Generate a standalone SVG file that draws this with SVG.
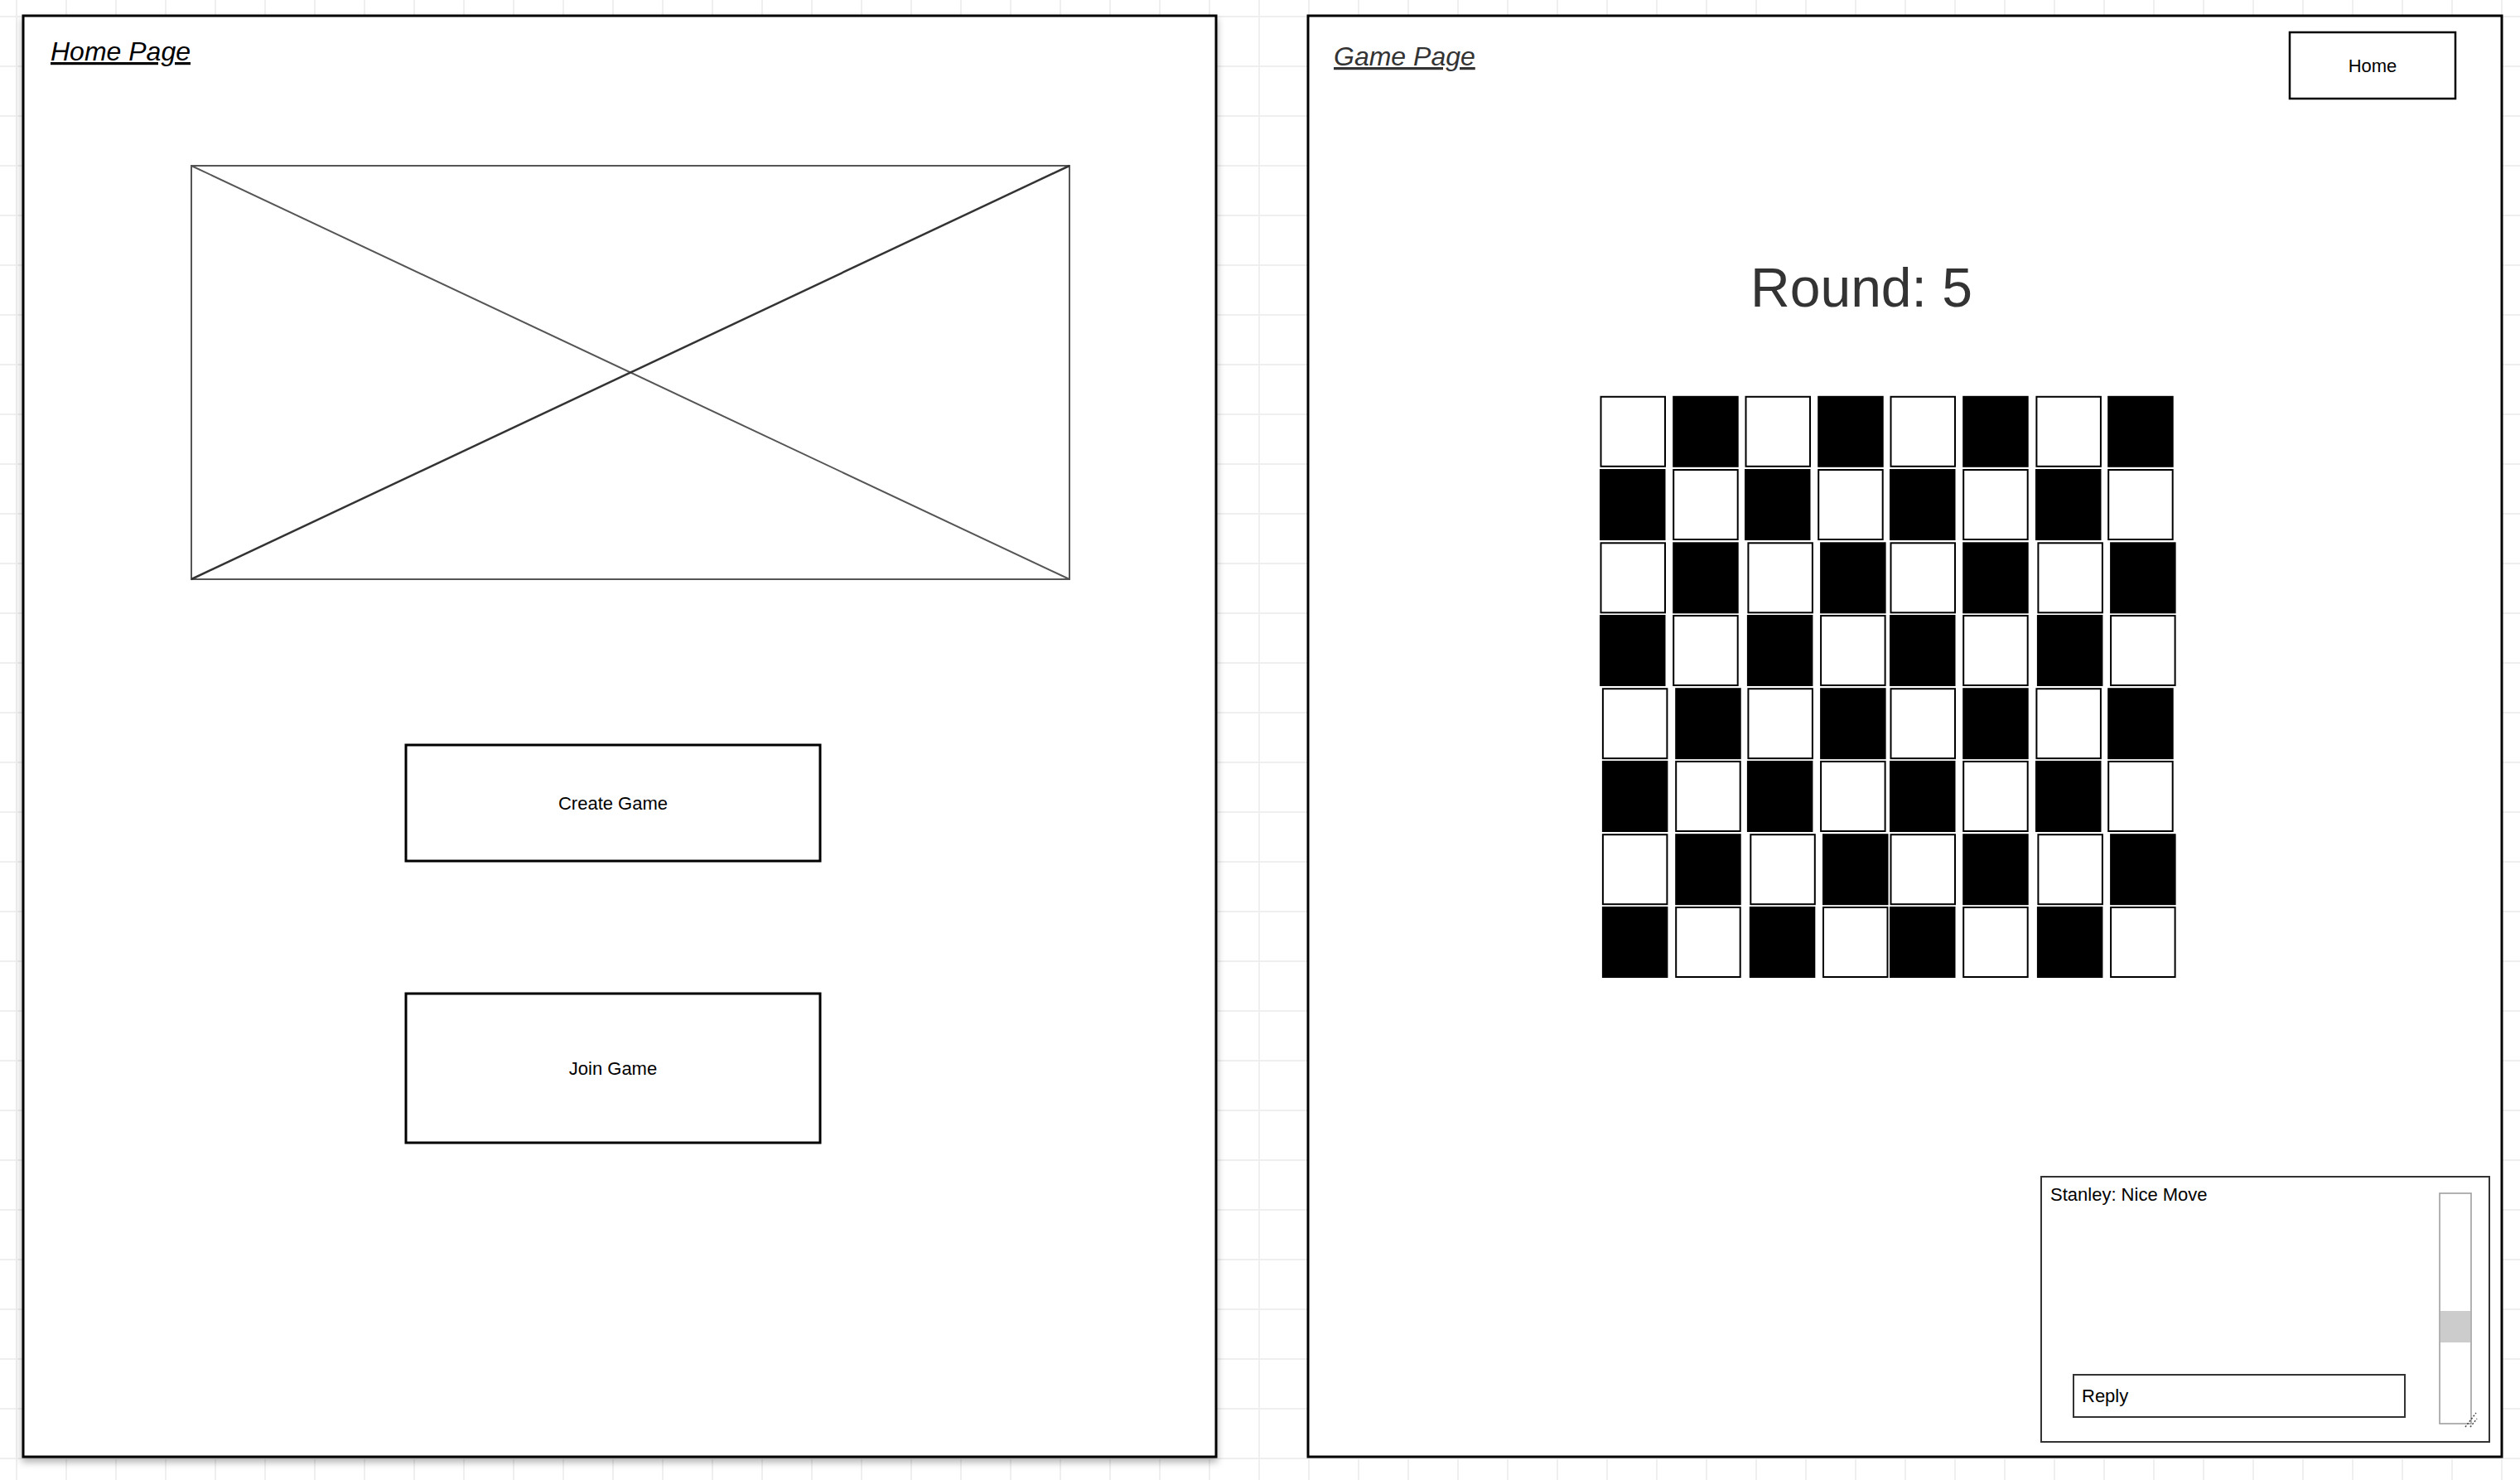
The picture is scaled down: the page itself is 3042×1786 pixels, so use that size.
<svg xmlns="http://www.w3.org/2000/svg" width="3042" height="1786" viewBox="0 0 3042 1786">
<defs>
<pattern id="grid" x="-10" y="-10" width="60" height="60" patternUnits="userSpaceOnUse">
<path d="M30 0 V60 M0 30 H60" stroke="#efefef" stroke-width="2" fill="none"/>
</pattern>
<filter id="shadow" x="-5%" y="-5%" width="110%" height="110%">
<feDropShadow dx="0" dy="5" stdDeviation="4" flood-color="#000" flood-opacity="0.3"/>
</filter>
</defs>
<style>
.frame{fill:#fff;stroke:#000;stroke-width:3}
.btn{fill:#fff;stroke:#000;stroke-width:3}
.t{font-family:"Liberation Sans",Arial,sans-serif}
.title{font-size:32px;font-style:italic;text-decoration:underline}
.lbl{font-size:22px;fill:#000}
.w{fill:#fff;stroke:#000;stroke-width:2}
.b{fill:#000}
.thin{fill:#fff;stroke:#333;stroke-width:2}
</style>
<rect x="0" y="0" width="3042" height="1786" fill="#fff"/>
<rect x="0" y="0" width="3042" height="1786" fill="url(#grid)"/>

<g id="home-page">
<rect class="frame" x="28" y="19" width="1440" height="1739" filter="url(#shadow)"/>
<text class="t title" x="61" y="73" fill="#000">Home Page</text>
</g>

<g id="image-placeholder">
<rect x="231" y="200" width="1060" height="499" fill="#fff" stroke="#555" stroke-width="2"/>
<line x1="231" y1="200" x2="1291" y2="699" stroke="#555" stroke-width="2"/>
<line x1="231" y1="699" x2="1291" y2="200" stroke="#333" stroke-width="2.5"/>
</g>

<g id="create-game">
<rect class="btn" x="490" y="899" width="500" height="140"/>
<text class="t lbl" x="740" y="977" text-anchor="middle">Create Game</text>
</g>

<g id="join-game">
<rect class="btn" x="490" y="1199" width="500" height="180"/>
<text class="t lbl" x="740" y="1297" text-anchor="middle">Join Game</text>
</g>

<g id="game-page">
<rect class="frame" x="1579" y="19" width="1441" height="1739"/>
<text class="t title" x="1610" y="79" fill="#333">Game Page</text>
</g>

<g id="home-button">
<rect x="2764" y="39" width="200" height="80" fill="#fff" stroke="#000" stroke-width="2.5"/>
<text class="t lbl" x="2864" y="87" text-anchor="middle">Home</text>
</g>

<g id="round-label">
<text class="t" x="2247" y="370" text-anchor="middle" font-size="66" fill="#333">Round: 5</text>
</g>

<g id="board">
<!-- row 1 -->
<rect class="w" x="1932.5" y="478.8" width="77.5" height="84"/>
<rect class="b" x="2019.2" y="477.8" width="79.5" height="86"/>
<rect class="w" x="2107.5" y="478.8" width="77.5" height="84"/>
<rect class="b" x="2194.2" y="477.8" width="79.5" height="86"/>
<rect class="w" x="2282.5" y="478.8" width="77.5" height="84"/>
<rect class="b" x="2369.2" y="477.8" width="79.5" height="86"/>
<rect class="w" x="2458.4" y="478.8" width="77.5" height="84"/>
<rect class="b" x="2544.2" y="477.8" width="79.5" height="86"/>
<!-- row 2 -->
<rect class="b" x="1931" y="566" width="79.5" height="86"/>
<rect class="w" x="2020.2" y="567" width="77.5" height="84"/>
<rect class="b" x="2106" y="566" width="79.5" height="86"/>
<rect class="w" x="2195.2" y="567" width="77.5" height="84"/>
<rect class="b" x="2281" y="566" width="79.5" height="86"/>
<rect class="w" x="2370.2" y="567" width="77.5" height="84"/>
<rect class="b" x="2457" y="566" width="79.5" height="86"/>
<rect class="w" x="2545.2" y="567" width="77.5" height="84"/>
<!-- row 3 -->
<rect class="w" x="1932.5" y="655.3" width="77.5" height="84"/>
<rect class="b" x="2019.2" y="654.3" width="79.5" height="86"/>
<rect class="w" x="2110.4" y="655.3" width="77.5" height="84"/>
<rect class="b" x="2197.1" y="654.3" width="79.5" height="86"/>
<rect class="w" x="2282.5" y="655.3" width="77.5" height="84"/>
<rect class="b" x="2369.2" y="654.3" width="79.5" height="86"/>
<rect class="w" x="2460.4" y="655.3" width="77.5" height="84"/>
<rect class="b" x="2547.1" y="654.3" width="79.5" height="86"/>
<!-- row 4 -->
<rect class="b" x="1931" y="742" width="79.5" height="86"/>
<rect class="w" x="2020.2" y="743" width="77.5" height="84"/>
<rect class="b" x="2108.9" y="742" width="79.5" height="86"/>
<rect class="w" x="2198.1" y="743" width="77.5" height="84"/>
<rect class="b" x="2281" y="742" width="79.5" height="86"/>
<rect class="w" x="2370.2" y="743" width="77.5" height="84"/>
<rect class="b" x="2458.9" y="742" width="79.5" height="86"/>
<rect class="w" x="2548.1" y="743" width="77.5" height="84"/>
<!-- row 5 -->
<rect class="w" x="1934.9" y="831.2" width="77.5" height="84"/>
<rect class="b" x="2022.2" y="830.2" width="79.5" height="86"/>
<rect class="w" x="2110.4" y="831.2" width="77.5" height="84"/>
<rect class="b" x="2197.1" y="830.2" width="79.5" height="86"/>
<rect class="w" x="2282.5" y="831.2" width="77.5" height="84"/>
<rect class="b" x="2369.2" y="830.2" width="79.5" height="86"/>
<rect class="w" x="2458.4" y="831.2" width="77.5" height="84"/>
<rect class="b" x="2544.2" y="830.2" width="79.5" height="86"/>
<!-- row 6 -->
<rect class="b" x="1933.9" y="918" width="79.5" height="86"/>
<rect class="w" x="2023.2" y="919" width="77.5" height="84"/>
<rect class="b" x="2108.9" y="918" width="79.5" height="86"/>
<rect class="w" x="2198.1" y="919" width="77.5" height="84"/>
<rect class="b" x="2281" y="918" width="79.5" height="86"/>
<rect class="w" x="2370.2" y="919" width="77.5" height="84"/>
<rect class="b" x="2457" y="918" width="79.5" height="86"/>
<rect class="w" x="2545.2" y="919" width="77.5" height="84"/>
<!-- row 7 -->
<rect class="w" x="1934.9" y="1007.2" width="77.5" height="84"/>
<rect class="b" x="2022.2" y="1006.2" width="79.5" height="86"/>
<rect class="w" x="2113.3" y="1007.2" width="77.5" height="84"/>
<rect class="b" x="2200" y="1006.2" width="79.5" height="86"/>
<rect class="w" x="2282.5" y="1007.2" width="77.5" height="84"/>
<rect class="b" x="2369.2" y="1006.2" width="79.5" height="86"/>
<rect class="w" x="2460.4" y="1007.2" width="77.5" height="84"/>
<rect class="b" x="2547.1" y="1006.2" width="79.5" height="86"/>
<!-- row 8 -->
<rect class="b" x="1933.9" y="1094" width="79.5" height="86"/>
<rect class="w" x="2023.2" y="1095" width="77.5" height="84"/>
<rect class="b" x="2111.8" y="1094" width="79.5" height="86"/>
<rect class="w" x="2201" y="1095" width="77.5" height="84"/>
<rect class="b" x="2281" y="1094" width="79.5" height="86"/>
<rect class="w" x="2370.2" y="1095" width="77.5" height="84"/>
<rect class="b" x="2458.9" y="1094" width="79.5" height="86"/>
<rect class="w" x="2548.1" y="1095" width="77.5" height="84"/>
</g>

<g id="chat-box">
<rect class="thin" x="2464" y="1420" width="541" height="320"/>
<text class="t lbl" x="2475" y="1449">Stanley: Nice Move</text>
<rect x="2945" y="1440" width="38" height="278" fill="#fff" stroke="#999" stroke-width="1.5"/>
<rect x="2946" y="1582" width="36" height="38" fill="#ccc"/>
<g stroke="#444" stroke-width="1.5" stroke-dasharray="2 2" fill="none">
<line x1="2976" y1="1722" x2="2989" y2="1705"/>
<line x1="2982" y1="1722" x2="2990" y2="1712"/>
</g>
</g>

<g id="reply-input">
<rect class="thin" x="2503" y="1659" width="400" height="51"/>
<text class="t lbl" x="2513" y="1692">Reply</text>
</g>

<g id="connectors"/>
</svg>
